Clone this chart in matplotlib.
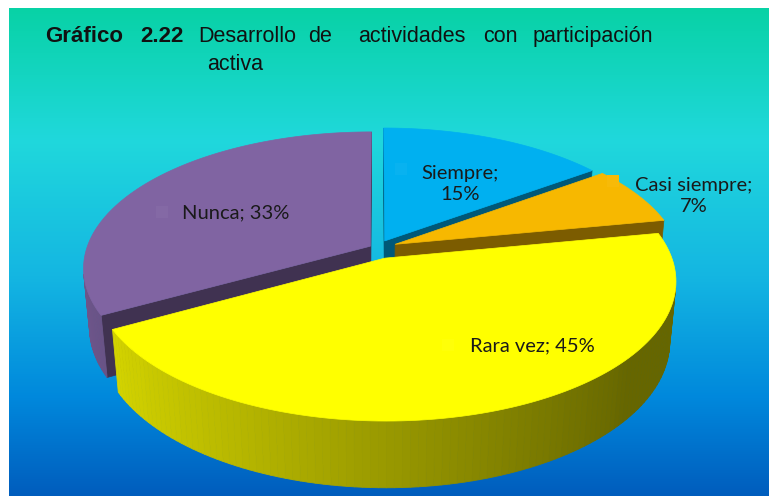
import numpy as np
import matplotlib.pyplot as plt
from matplotlib.collections import PolyCollection
from matplotlib.patches import Polygon, Rectangle
from matplotlib.colors import to_rgb, LinearSegmentedColormap

# data
labels = ["Siempre", "Casi siempre", "Rara vez", "Nunca"]
values = [15, 7, 45, 33]
colors = ["#00b0f0", "#f7b800", "#ffff00", "#8064a2"]
explode = [0.06, 0.07, 0.08, 0.027]

title_bold = [("Gráfico", 45), ("2.22", 140)]
title_words = [("Desarrollo", 198), ("de", 308), ("actividades", 358),
               ("con", 483), ("participación", 533)]
title_line2 = ("activa", 207)

W, H = 769, 496
fig = plt.figure(figsize=(W / 100, H / 100), dpi=100)
ax = fig.add_axes([0, 0, 1, 1])
ax.set_xlim(0, W)
ax.set_ylim(H, 0)
ax.axis("off")

# background gradient
stops = [(0.0, "#08d2a6"), (0.27, "#20d8dc"), (0.55, "#14b6e2"),
         (0.8, "#0088dc"), (1.0, "#005dbd")]
cmap = LinearSegmentedColormap.from_list("bg", stops)
grad = np.linspace(0, 1, 256).reshape(-1, 1)
ax.imshow(grad, cmap=cmap, extent=(9, W, H, 8), aspect="auto", zorder=0)

# simple perspective camera for the 3d pie
phi = np.radians(28)
D = 5.5
f = 1560
cx, cy = 377, 248
h = 0.24
cam = np.array([0, -D * np.cos(phi), D * np.sin(phi)])


def proj(x, y, z):
    vy = y + D * np.cos(phi)
    vz = z - D * np.sin(phi)
    depth = vy * np.cos(phi) - vz * np.sin(phi)
    up = vy * np.sin(phi) + vz * np.cos(phi)
    return cx + f * x / depth, cy - f * up / depth


def facing(nx, ny, px, py):
    return nx * (cam[0] - px) + ny * (cam[1] - py) > 0


def shade(c, k):
    return tuple(np.clip(np.array(to_rgb(c)) * k, 0, 1))


def side_k(t):
    return np.clip(0.6 - 0.26 * np.cos(t), 0.4, 0.9)


fracs = np.array(values) / sum(values)
starts = 90 - 360 * np.concatenate([[0], np.cumsum(fracs)[:-1]])
ends = starts - 360 * fracs
mids = np.radians((starts + ends) / 2)

# far slices first
order = np.argsort(-np.sin(mids))
z = 2
for i in order:
    e = explode[i]
    ox, oy = e * np.cos(mids[i]), e * np.sin(mids[i])
    t = np.radians(np.linspace(ends[i], starts[i], 120))
    col = colors[i]

    # radial faces
    for ang, sgn in [(np.radians(starts[i]), 1), (np.radians(ends[i]), -1)]:
        na = ang + sgn * np.pi / 2
        px, py = ox + 0.5 * np.cos(ang), oy + 0.5 * np.sin(ang)
        if facing(np.cos(na), np.sin(na), px, py):
            ex, ey = ox + np.cos(ang), oy + np.sin(ang)
            pts = [proj(ox, oy, 0), proj(ex, ey, 0), proj(ex, ey, -h), proj(ox, oy, -h)]
            ax.add_patch(Polygon(pts, closed=True, facecolor=shade(col, 0.5),
                                 edgecolor=shade(col, 0.5), lw=0.5, zorder=z))

    # outer curved side
    quads, fcs = [], []
    for a, b in zip(t[:-1], t[1:]):
        tm = (a + b) / 2
        if not facing(np.cos(tm), np.sin(tm), ox + np.cos(tm), oy + np.sin(tm)):
            continue
        xa, ya = ox + np.cos(a), oy + np.sin(a)
        xb, yb = ox + np.cos(b), oy + np.sin(b)
        quads.append([proj(xa, ya, 0), proj(xb, yb, 0), proj(xb, yb, -h), proj(xa, ya, -h)])
        fcs.append(shade(col, side_k(tm)))
    if quads:
        ax.add_collection(PolyCollection(quads, facecolors=fcs, edgecolors=fcs,
                                         linewidths=0.6, zorder=z + 0.1))

    # top face
    top = [proj(ox, oy, 0)] + [proj(ox + np.cos(a), oy + np.sin(a), 0) for a in t]
    ax.add_patch(Polygon(top, closed=True, facecolor=col, edgecolor=col,
                         lw=0.5, zorder=z + 0.2))
    z += 1

# data labels
label_font = ["Lato", "DejaVu Sans"]
label_pos = [(460, 184), (694, 196), (532, 346), (236, 213)]
key_pos = [(401, 169), (613, 181), (448, 345), (162, 212)]
wrap = [True, True, False, False]
for i in range(len(values)):
    sep = ";\n" if wrap[i] else "; "
    ax.text(*label_pos[i], f"{labels[i]}{sep}{values[i]}%", ha="center", va="center",
            fontsize=14.5, family=label_font, color="#1a1a1a", linespacing=1.3, zorder=20)
    kc = tuple(np.clip(np.array(to_rgb(colors[i])) * 0.97 + 0.03, 0, 1))
    ax.add_patch(Rectangle((key_pos[i][0] - 6, key_pos[i][1] - 6), 12, 12,
                           facecolor=kc, edgecolor="none", zorder=20))

# title
title_font = ["Liberation Sans Narrow", "Liberation Sans", "DejaVu Sans"]
for w, x in title_bold:
    ax.text(x, 42, w, ha="left", va="baseline", fontsize=16, fontweight="bold",
            family=title_font, color="#111111", zorder=20)
for w, x in title_words:
    ax.text(x, 42, w, ha="left", va="baseline", fontsize=15.5,
            family=title_font, color="#111111", zorder=20)
ax.text(title_line2[1], 70, title_line2[0], ha="left", va="baseline", fontsize=15.5,
        family=title_font, color="#111111", zorder=20)

fig.savefig("out.png", dpi=100)
